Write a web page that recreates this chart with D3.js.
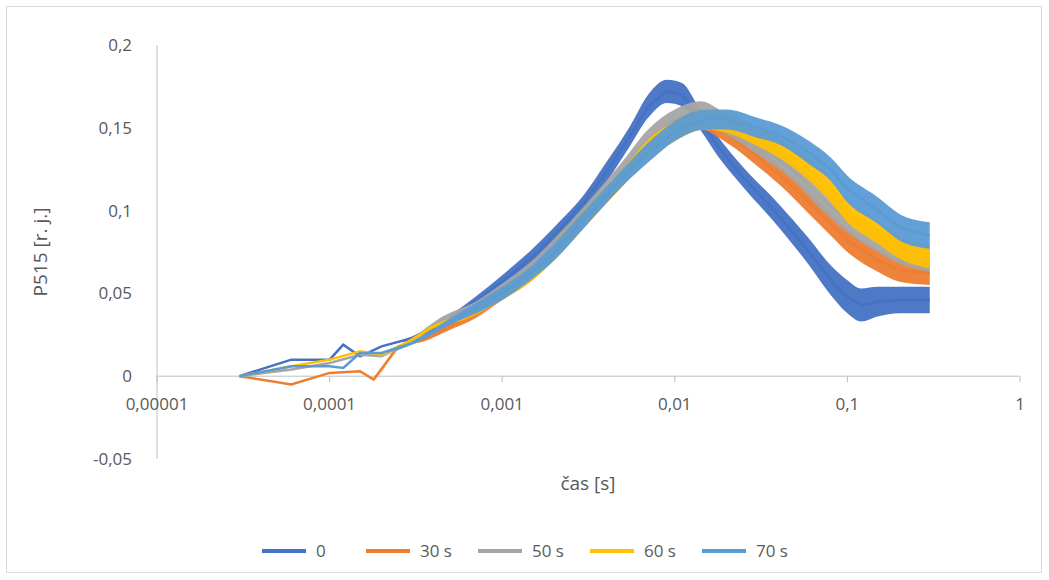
<!DOCTYPE html>
<html><head><meta charset="utf-8">
<script src="https://cdn.jsdelivr.net/npm/d3@7"></script>
<style>body{margin:0;background:#fff}text{font-family:"Open Sans",Carlito,sans-serif;fill:#595959}</style>
</head><body><svg id="chart" width="1049" height="580"></svg>
<script>
// time [s], value, half-width of the noisy band
var seriesNames = ["0", "30 s", "50 s", "60 s", "70 s"];
var seriesColors = ["#4472C4", "#ED7D31", "#A5A5A5", "#FFC000", "#5B9BD5"];
var t0 = [3e-5, 6e-5, 1e-4, 1.2e-4, 1.5e-4, 2e-4, 3e-4, 5e-4, 7e-4, 1e-3, 1.5e-3, 2e-3, 3e-3, 4e-3, 5.5e-3, 7e-3, 0.009, 0.011, 0.014, 0.018, 0.025, 0.04, 0.06, 0.08, 0.1, 0.12, 0.15, 0.2, 0.3];
var v0 = [0, 0.01, 0.01, 0.019, 0.012, 0.018, 0.023, 0.035, 0.045, 0.057, 0.072, 0.085, 0.105, 0.123, 0.145, 0.163, 0.172, 0.17, 0.155, 0.138, 0.12, 0.097, 0.075, 0.058, 0.048, 0.043, 0.045, 0.046, 0.046];
var h0 = [0, 0, 0, 0, 0, 0, 0.001, 0.002, 0.003, 0.004, 0.005, 0.005, 0.005, 0.006, 0.006, 0.007, 0.007, 0.007, 0.006, 0.006, 0.006, 0.007, 0.008, 0.009, 0.01, 0.01, 0.009, 0.008, 0.008];
var t30 = [3e-5, 6e-5, 1e-4, 1.5e-4, 1.8e-4, 2.5e-4, 3.5e-4, 5e-4, 7e-4, 1e-3, 1.5e-3, 2e-3, 3e-3, 5e-3, 7e-3, 0.01, 0.014, 0.02, 0.03, 0.04, 0.06, 0.08, 0.1, 0.15, 0.2, 0.3];
var v30 = [0, -0.005, 0.002, 0.003, -0.002, 0.018, 0.022, 0.03, 0.038, 0.05, 0.062, 0.075, 0.095, 0.12, 0.137, 0.148, 0.155, 0.147, 0.133, 0.122, 0.105, 0.092, 0.082, 0.07, 0.064, 0.062];
var h30 = [0, 0, 0, 0, 0, 0, 0.001, 0.002, 0.003, 0.004, 0.004, 0.005, 0.005, 0.005, 0.006, 0.006, 0.006, 0.006, 0.006, 0.006, 0.007, 0.007, 0.007, 0.007, 0.007, 0.007];
var t50 = [3e-5, 6e-5, 1e-4, 1.5e-4, 2e-4, 3e-4, 4.5e-4, 7e-4, 1e-3, 1.5e-3, 2e-3, 3e-3, 5e-3, 7e-3, 0.01, 0.014, 0.02, 0.03, 0.05, 0.07, 0.1, 0.15, 0.2, 0.3];
var v50 = [0, 0.004, 0.008, 0.013, 0.012, 0.022, 0.034, 0.042, 0.052, 0.066, 0.078, 0.098, 0.125, 0.143, 0.155, 0.16, 0.152, 0.14, 0.123, 0.108, 0.094, 0.082, 0.075, 0.07];
var h50 = [0, 0, 0, 0, 0, 0.001, 0.002, 0.003, 0.004, 0.004, 0.005, 0.005, 0.005, 0.006, 0.006, 0.006, 0.006, 0.006, 0.006, 0.007, 0.007, 0.007, 0.007, 0.007];
var t60 = [3e-5, 6e-5, 1e-4, 1.5e-4, 2e-4, 3e-4, 4e-4, 6e-4, 1e-3, 1.5e-3, 2e-3, 3e-3, 5e-3, 7e-3, 0.01, 0.015, 0.02, 0.03, 0.04, 0.06, 0.08, 0.1, 0.15, 0.2, 0.3];
var v60 = [0, 0.006, 0.01, 0.015, 0.013, 0.022, 0.03, 0.036, 0.05, 0.062, 0.075, 0.095, 0.12, 0.137, 0.148, 0.155, 0.153, 0.145, 0.138, 0.125, 0.112, 0.1, 0.087, 0.078, 0.072];
var h60 = [0, 0, 0, 0, 0, 0.001, 0.001, 0.002, 0.004, 0.004, 0.005, 0.005, 0.005, 0.006, 0.006, 0.006, 0.006, 0.006, 0.006, 0.007, 0.007, 0.007, 0.007, 0.007, 0.007];
var t70 = [3e-5, 6e-5, 1e-4, 1.2e-4, 1.5e-4, 2e-4, 3e-4, 5e-4, 1e-3, 1.5e-3, 2e-3, 3e-3, 5e-3, 7e-3, 0.01, 0.015, 0.02, 0.03, 0.04, 0.06, 0.08, 0.1, 0.15, 0.2, 0.3];
var v70 = [0, 0.006, 0.006, 0.005, 0.014, 0.014, 0.02, 0.033, 0.05, 0.063, 0.075, 0.095, 0.12, 0.135, 0.148, 0.155, 0.155, 0.15, 0.146, 0.135, 0.125, 0.113, 0.1, 0.09, 0.085];
var h70 = [0, 0, 0, 0, 0, 0, 0.001, 0.002, 0.004, 0.004, 0.005, 0.005, 0.005, 0.006, 0.006, 0.006, 0.006, 0.006, 0.006, 0.007, 0.007, 0.008, 0.008, 0.008, 0.008];
var xTicks = [1e-5, 1e-4, 1e-3, 1e-2, 1e-1, 1];
var xTickLabels = ["0,00001", "0,0001", "0,001", "0,01", "0,1", "1"];
var yTicks = [-0.05, 0, 0.05, 0.1, 0.15, 0.2];
var yTickLabels = ["-0,05", "0", "0,05", "0,1", "0,15", "0,2"];

var allT = [t0, t30, t50, t60, t70], allV = [v0, v30, v50, v60, v70], allH = [h0, h30, h50, h60, h70];

var svg = d3.select("#chart");
svg.append("rect").attr("x", 6.5).attr("y", 6.5).attr("width", 1035).attr("height", 566)
    .attr("fill", "#fff").attr("stroke", "#d9d9d9");

var x = d3.scaleLog().domain([1e-5, 1]).range([157, 1020]);
var y = d3.scaleLinear().domain([-0.05, 0.2]).range([459, 45]);

svg.append("line").attr("x1", 157).attr("x2", 157).attr("y1", y(0.2)).attr("y2", y(-0.05)).attr("stroke", "#bfbfbf");
svg.append("line").attr("x1", 157).attr("x2", 1020).attr("y1", y(0)).attr("y2", y(0)).attr("stroke", "#bfbfbf");
xTicks.forEach(function (t, i) {
    svg.append("line").attr("x1", x(t)).attr("x2", x(t)).attr("y1", y(0)).attr("y2", y(0) + 6).attr("stroke", "#bfbfbf");
    svg.append("text").attr("x", x(t)).attr("y", y(0) + 34).attr("text-anchor", "middle")
        .attr("font-size", 17).text(xTickLabels[i]);
});
yTicks.forEach(function (t, i) {
    svg.append("text").attr("x", 132).attr("y", y(t) + 6).attr("text-anchor", "end")
        .attr("font-size", 17).text(yTickLabels[i]);
});
svg.append("text").attr("transform", "translate(47," + y(0.075) + ") rotate(-90)")
    .attr("text-anchor", "middle").attr("font-size", 19).text("P515 [r. j.]");
svg.append("text").attr("x", 588).attr("y", 490).attr("text-anchor", "middle")
    .attr("font-size", 19).text("čas [s]");

allT.forEach(function (ts, s) {
    var pts = ts.map(function (t, i) { return { t: t, v: allV[s][i], h: allH[s][i] }; });
    svg.append("path").datum(pts)
        .attr("d", d3.area().x(function (d) { return x(d.t); })
            .y0(function (d) { return y(d.v - d.h); }).y1(function (d) { return y(d.v + d.h); })
            .curve(d3.curveMonotoneX))
        .attr("fill", seriesColors[s]).attr("opacity", 0.95);
    svg.append("path").datum(pts)
        .attr("d", d3.line().x(function (d) { return x(d.t); }).y(function (d) { return y(d.v); }))
        .attr("fill", "none").attr("stroke", seriesColors[s]).attr("stroke-width", 2.5);
});

var legX = [262, 366, 478, 590, 702];
seriesNames.forEach(function (n, i) {
    svg.append("line").attr("x1", legX[i]).attr("x2", legX[i] + 44).attr("y1", 551).attr("y2", 551)
        .attr("stroke", seriesColors[i]).attr("stroke-width", 4);
    svg.append("text").attr("x", legX[i] + 54).attr("y", 557).attr("font-size", 17).text(n);
});
</script></body></html>
